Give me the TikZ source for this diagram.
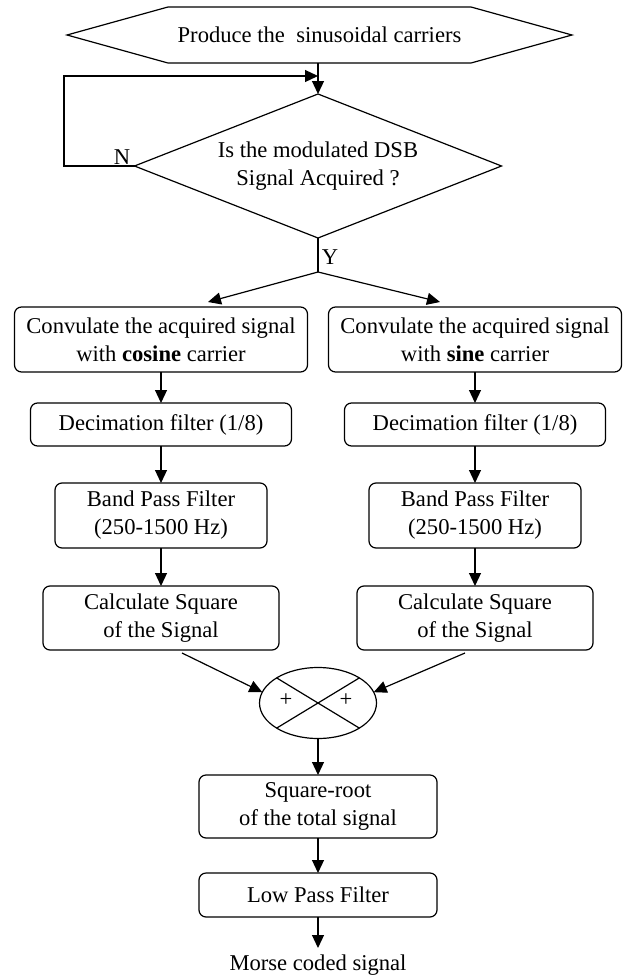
\documentclass[tikz,border=0pt]{standalone}
\usepackage{fontspec}
\setmainfont{Liberation Serif}
\usetikzlibrary{shapes.geometric,shapes.symbols,arrows.meta,calc}

\begin{document}
\begin{tikzpicture}[x=0.5pt,y=-0.5pt,
	font=\fontsize{11.3}{14}\selectfont,
	line width=0.6pt,
	>={Triangle[length=6.5pt,width=6pt]},
	blk/.style={draw,rounded corners=3.5pt,align=center,inner sep=0pt,outer sep=0pt}]
\useasboundingbox (0,0) rectangle (631,975);

\node[draw,signal,signal to=west and east,signal pointer angle=31,
	minimum width=252.5pt,minimum height=28pt,inner sep=0pt,outer sep=0pt] (start) at (319.5,35) {Produce the \ sinusoidal carriers};
\node[draw,diamond,shape aspect=2.55,minimum width=183.5pt,minimum height=72pt,
	inner sep=0pt,outer sep=0pt,align=center] (ask) at (318,166) {Is the modulated DSB\\Signal Acquired ?};

\node[blk,minimum width=146.5pt,minimum height=32.5pt] (conv1) at (161,339.5) {Convulate the acquired signal\\with \textbf{cosine} carrier};
\node[blk,minimum width=146.5pt,minimum height=32.5pt] (conv2) at (475,339.5) {Convulate the acquired signal\\with \textbf{sine} carrier};
\node[blk,minimum width=130.5pt,minimum height=21.5pt] (dec1) at (161,424.5) {Decimation filter (1/8)};
\node[blk,minimum width=130.5pt,minimum height=21.5pt] (dec2) at (475,424.5) {Decimation filter (1/8)};
\node[blk,minimum width=106pt,minimum height=32.5pt] (bpf1) at (161,515.5) {Band Pass Filter\\(250-1500 Hz)};
\node[blk,minimum width=106pt,minimum height=32.5pt] (bpf2) at (475,515.5) {Band Pass Filter\\(250-1500 Hz)};
\node[blk,minimum width=118pt,minimum height=32pt] (sq1) at (161,618) {Calculate Square\\of the Signal};
\node[blk,minimum width=118pt,minimum height=32pt] (sq2) at (475,618) {Calculate Square\\of the Signal};

\node[draw,ellipse,minimum width=58.5pt,minimum height=35.5pt,inner sep=0pt,outer sep=0pt,
	path picture={\draw (path picture bounding box.north west) -- (path picture bounding box.south east)
		(path picture bounding box.south west) -- (path picture bounding box.north east);}] (sum) at (318,703) {};
\node (plusL) at (286,700) {+};
\node (plusR) at (346,700) {+};

\node[blk,minimum width=119pt,minimum height=31.5pt] (root) at (318,806.5) {Square-root\\of the total signal};
\node[blk,minimum width=119pt,minimum height=22pt] (lpf) at (318,895) {Low Pass Filter};
\node[anchor=north,inner sep=3pt] (out) at (318,948) {Morse coded signal};

% loop back when nothing acquired
\coordinate (loop) at (64,76);
\coordinate (fork) at (318,272);
\draw[->] (start.south -| ask.north) -- (ask.north);
\draw[->] (ask.west) -| (loop) -- (loop -| ask.north);
\node (lblN) at (122,157) {N};
\draw (ask.south) -- (fork);
\node (lblY) at (330,257) {Y};
\draw[->] (fork) -- ($(conv1.north)+(47,-5)$);
\draw[->] (fork) -- ($(conv2.north)+(-35,-5)$);

\foreach \a/\b in {conv1/dec1,dec1/bpf1,bpf1/sq1,conv2/dec2,dec2/bpf2,bpf2/sq2,sum/root,root/lpf,lpf/out}
{
	\draw[->] (\a.south) -- (\b.north);
}
\draw[->] ($(sq1.south)+(21,3)$) -- (sum.169);
\draw[->] ($(sq2.south)+(-10,3)$) -- (sum.11);
\end{tikzpicture}
\end{document}
